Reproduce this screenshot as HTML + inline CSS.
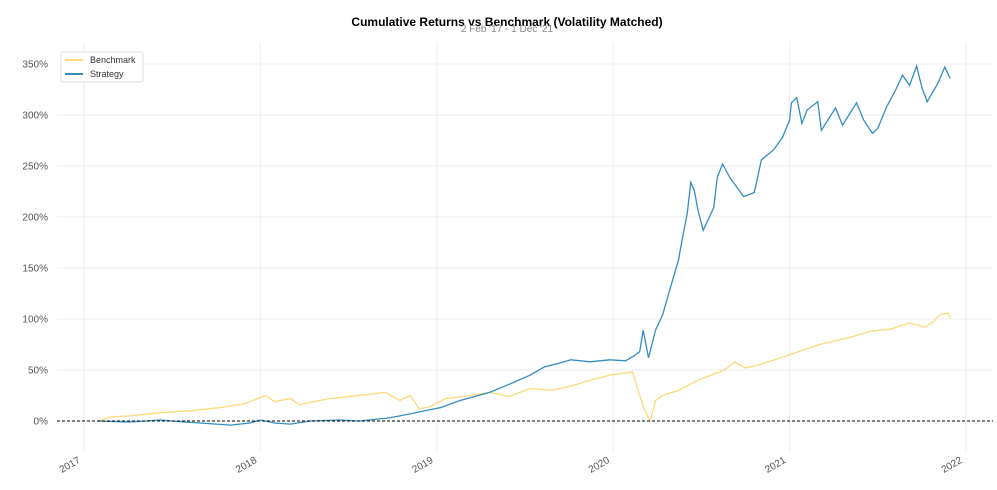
<!DOCTYPE html>
<html><head><meta charset="utf-8">
<style>
body{margin:0;background:#fff;font-family:"Liberation Sans",sans-serif;}
svg text{font-family:"Liberation Sans",sans-serif;}
</style></head>
<body>
<svg id="chart" width="997" height="485" xmlns="http://www.w3.org/2000/svg">
<text x="507" y="26" text-anchor="middle" font-size="12" font-weight="bold" fill="#000">Cumulative Returns vs Benchmark (Volatility Matched)</text>
<text x="507" y="32" text-anchor="middle" font-size="10" fill="#888">2 Feb '17 -  1 Dec '21</text>
<g id="grid"></g>
<g id="axes"></g>
<g id="series"></g>
<g>
<rect x="61" y="52" width="82" height="30" fill="#fff" stroke="#ddd" rx="2"/>
<line x1="65" y1="60" x2="83" y2="60" stroke="#fcd97a" stroke-width="2"/>
<text x="90" y="63" font-size="9" fill="#333">Benchmark</text>
<line x1="65" y1="74" x2="83" y2="74" stroke="#348dc1" stroke-width="2"/>
<text x="90" y="77" font-size="9" fill="#333">Strategy</text>
</g>
</svg>
<script>
const yTicks=[0,50,100,150,200,250,300,350];
const xTicks=[2017,2018,2019,2020,2021,2022];
const stratDates=[2017.08,2017.26,2017.43,2017.57,2017.66,2017.83,2017.94,2018.00,2018.08,2018.17,2018.28,2018.45,2018.56,2018.73,2018.85,2018.96,2019.02,2019.13,2019.30,2019.41,2019.53,2019.61,2019.70,2019.76,2019.87,2019.98,2020.07,2020.12,2020.15,2020.17,2020.20,2020.24,2020.28,2020.32,2020.37,2020.39,2020.42,2020.44,2020.46,2020.48,2020.51,2020.57,2020.59,2020.62,2020.66,2020.74,2020.80,2020.84,2020.91,2020.96,2021.00,2021.01,2021.04,2021.07,2021.10,2021.16,2021.18,2021.26,2021.30,2021.38,2021.42,2021.47,2021.50,2021.55,2021.60,2021.64,2021.68,2021.72,2021.75,2021.78,2021.84,2021.88,2021.91];
const stratValues=[0,-1,1,-1,-2,-4,-2,1,-2,-3,0,1,0,3,7,11,13,20,28,36,45,53,57,60,58,60,59,64,68,89,62,89,104,128,158,177,204,234,226,207,187,209,239,252,239,220,224,256,266,278,295,312,317,292,305,313,285,307,290,312,295,282,287,308,324,339,329,348,327,313,331,347,336];
const benchDates=[2017.08,2017.15,2017.26,2017.43,2017.60,2017.77,2017.91,2018.03,2018.08,2018.17,2018.22,2018.39,2018.56,2018.71,2018.79,2018.85,2018.90,2018.96,2019.05,2019.19,2019.30,2019.41,2019.53,2019.64,2019.76,2019.87,2019.98,2020.11,2020.14,2020.18,2020.21,2020.24,2020.28,2020.37,2020.48,2020.63,2020.69,2020.75,2020.83,2021.00,2021.17,2021.34,2021.46,2021.57,2021.68,2021.77,2021.82,2021.85,2021.90,2021.91];
const benchValues=[0,4,5,8,10,13,17,25,19,22,16,22,25,28,20,25,12,14,22,25,28,24,32,30,34,40,45,48,30,10,0,20,25,30,40,50,58,52,55,65,75,82,88,90,96,92,98,104,106,100];

const NS="http://www.w3.org/2000/svg";
const X0=57,X1=993,Y0=421;
function xs(y){return 84+(y-2017)*176.4;}
function ys(v){return Y0-v*1.02;}
function mk(tag,attrs,parent){const e=document.createElementNS(NS,tag);for(const k in attrs)e.setAttribute(k,attrs[k]);parent.appendChild(e);return e;}
const grid=document.getElementById('grid'),axes=document.getElementById('axes'),ser=document.getElementById('series');
yTicks.forEach(t=>{
  const l=mk('line',{x1:X0,x2:X1,y1:ys(t),y2:ys(t),stroke:'#eee','stroke-width':1},grid);
  
  
  const tx=mk('text',{x:48,y:ys(t)+3.5,'text-anchor':'end','font-size':10,fill:'#555'},axes);
  tx.textContent=t+'%';
  
  
});
xTicks.forEach(t=>{
  const x=xs(t)-3;
  const l=mk('line',{x1:xs(t),x2:xs(t),y1:42,y2:452,stroke:'#eee','stroke-width':1},grid);
  
  
  const tx=mk('text',{x:x,y:462,'text-anchor':'end','font-size':10,fill:'#555',transform:`rotate(-30 ${x} 462)`},axes);
  tx.textContent=t;
  
  
});
function path(d,v){return d.map((t,i)=>(i?'L':'M')+xs(t).toFixed(1)+','+ys(v[i]).toFixed(1)).join('');}
const b=mk('path',{d:path(benchDates,benchValues),fill:'none',stroke:'#fcd97a','stroke-width':1.3},ser);


const s=mk('path',{d:path(stratDates,stratValues),fill:'none',stroke:'#348dc1','stroke-width':1.3},ser);


const z=mk('line',{x1:X0,x2:X1,y1:ys(0),y2:ys(0),stroke:'#000','stroke-width':1,'stroke-dasharray':'3,2'},ser);


</script>
</body></html>
